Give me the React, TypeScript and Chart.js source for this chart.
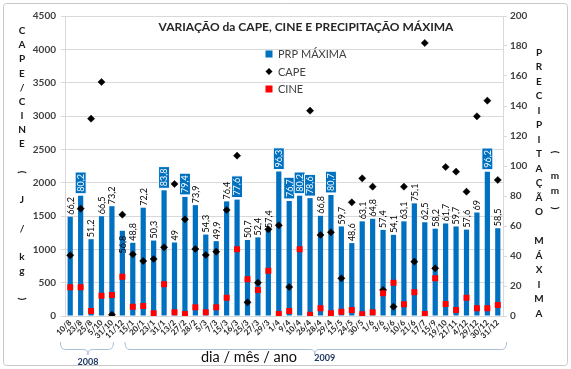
import React, { useEffect, useRef } from "react";
import { Chart, registerables } from "chart.js";

Chart.register(...registerables);

const categories = ["10/8","23/8","25/8","5/10","31/10","11/12","15/1","20/1","23/1","31/1","13/2","27/2","28/2","5/3","7/3","15/3","16/3","25/3","27/3","29/3","1/4","9/4","10/4","26/4","28/4","29/4","15/5","24/5","30/5","1/6","3/6","5/6","10/6","21/6","17/7","15/9","19/10","21/11","4/12","29/12","30/12","31/12"];
const prpMaxima = [66.2,80.2,51.2,66.5,73.2,56.8,48.8,72.2,50.3,83.8,49,79.4,73.9,54.3,49.9,76.4,77.6,50.7,52.4,57.4,96.3,76.7,80.2,78.6,66.8,80.7,59.7,48.6,63.1,64.8,57.4,54.1,63.1,75.1,62.5,58.2,61.7,59.7,57.6,69,96.2,58.5];
const cape = [910,1610,2960,3510,20,1520,925,825,855,1030,1980,1450,1005,915,965,1590,2405,205,500,1300,1360,435,null,3080,1215,1255,565,1705,2065,1940,390,140,1940,815,4095,715,2235,2165,1865,2995,3230,2040];
const cine = [431,431,75,305,315,590,140,150,40,476,55,30,130,55,130,275,1000,551,390,680,30,75,1000,20,115,40,65,90,25,55,340,500,175,356,30,566,180,90,275,115,115,165];
const leftMax = 4500;
const leftStep = 500;
const rightMax = 200;
const rightStep = 20;
const boxedAbove = 76.5;
const insideLabelIdx = [5];

const titleText = "VARIAÇÃO da CAPE, CINE E PRECIPITAÇÃO MÁXIMA";
const xTitle = "dia / mês / ano";
const leftTitle = "CAPE/CINE ( J / kg )";
const rightTitleA = "PRECIPITAÇÃO MÁXIMA";
const rightTitleB = ["(", "m", "m", ")"];
const legendItems = ["PRP MÁXIMA", "CAPE", "CINE"];
const years = ["2008", "2009"];

const BLUE = "#0070C0";
const FONT = "Lato, 'Open Sans', sans-serif";

function fmt(v: number) {
  return Number.isInteger(v) ? String(v) : v.toFixed(1).replace(".", ",");
}

function drawChar(ctx: CanvasRenderingContext2D, ch: string, x: number, y: number) {
  if (ch === " ") return;
  ctx.save();
  ctx.translate(x, y);
  if (ch === "(" || ch === ")") ctx.rotate(Math.PI / 2);
  ctx.fillText(ch, 0, 0);
  ctx.restore();
}

function drawBrace(ctx: CanvasRenderingContext2D, x1: number, x2: number, xm: number, yTop: number, yLine: number, yTip: number) {
  ctx.beginPath();
  ctx.moveTo(x1, yTop);
  ctx.quadraticCurveTo(x1, yLine, x1 + 5, yLine);
  ctx.lineTo(xm - 4, yLine);
  ctx.quadraticCurveTo(xm, yLine, xm, yTip);
  ctx.quadraticCurveTo(xm, yLine, xm + 4, yLine);
  ctx.lineTo(x2 - 5, yLine);
  ctx.quadraticCurveTo(x2, yLine, x2, yTop);
  ctx.stroke();
}

const decoPlugin = {
  id: "deco",
  afterDatasetsDraw(chart: any) {
    const ctx: CanvasRenderingContext2D = chart.ctx;
    const meta = chart.getDatasetMeta(0);
    meta.data.forEach((bar: any, i: number) => {
      const v = prpMaxima[i];
      const txt = fmt(v);
      ctx.save();
      ctx.font = `9px ${FONT}`;
      const w = ctx.measureText(txt).width;
      ctx.textBaseline = "middle";
      ctx.textAlign = "left";
      if (v > boxedAbove) {
        ctx.translate(bar.x, bar.y - 2);
        ctx.rotate(-Math.PI / 2);
        ctx.fillStyle = BLUE;
        ctx.fillRect(0, -5.5, w + 4, 11);
        ctx.strokeStyle = "#ffffff";
        ctx.lineWidth = 1;
        ctx.strokeRect(0, -5.5, w + 4, 11);
        ctx.fillStyle = "#ffffff";
        ctx.fillText(txt, 2, 0.5);
      } else if (insideLabelIdx.includes(i)) {
        ctx.translate(bar.x, bar.y + 5 + w);
        ctx.rotate(-Math.PI / 2);
        ctx.fillStyle = "#000000";
        ctx.fillText(txt, 0, 0.5);
      } else {
        ctx.translate(bar.x, bar.y - 2);
        ctx.rotate(-Math.PI / 2);
        ctx.fillStyle = "#000000";
        ctx.fillText(txt, 0, 0.5);
      }
      ctx.restore();
    });
  },
  afterDraw(chart: any) {
    const ctx: CanvasRenderingContext2D = chart.ctx;
    const area = chart.chartArea;
    ctx.save();

    // outer border
    ctx.strokeStyle = "#c8c8c8";
    ctx.lineWidth = 1;
    ctx.beginPath();
    (ctx as any).roundRect(3.5, 3.5, 564, 362, 3);
    ctx.stroke();

    // title
    ctx.fillStyle = "#262626";
    ctx.font = `bold 12px ${FONT}`;
    ctx.textAlign = "center";
    ctx.textBaseline = "middle";
    ctx.fillText(titleText, 306, 27);

    // legend
    ctx.font = `11px ${FONT}`;
    ctx.textAlign = "left";
    const ly = [54, 71.5, 89];
    const lx = 269;
    legendItems.forEach((t, k) => {
      ctx.fillStyle = "#404040";
      ctx.fillText(t, lx + 9, ly[k] + 0.5);
    });
    ctx.fillStyle = BLUE;
    ctx.fillRect(lx - 3.5, ly[0] - 3.5, 7, 7);
    ctx.fillStyle = "#000000";
    ctx.beginPath();
    ctx.moveTo(lx, ly[1] - 3.5);
    ctx.lineTo(lx + 3.5, ly[1]);
    ctx.lineTo(lx, ly[1] + 3.5);
    ctx.lineTo(lx - 3.5, ly[1]);
    ctx.closePath();
    ctx.fill();
    ctx.fillStyle = "#ff0000";
    ctx.fillRect(lx - 3.5, ly[2] - 3.5, 7, 7);

    // left axis title (stacked)
    ctx.fillStyle = "#1a1a1a";
    ctx.font = `bold 10px ${FONT}`;
    ctx.textAlign = "center";
    ctx.textBaseline = "middle";
    leftTitle.split("").forEach((ch, k) => drawChar(ctx, ch, 22, 31 + k * 14.1));

    // right axis title (stacked, two columns)
    rightTitleA.split("").forEach((ch, k) => drawChar(ctx, ch, 539, 52.5 + k * 14.5));
    const rbY = [152, 176, 191, 208];
    rightTitleB.forEach((ch, k) => drawChar(ctx, ch, 555, rbY[k]));

    // x title
    ctx.fillStyle = "#0d0d0d";
    ctx.font = `14.5px ${FONT}`;
    ctx.textAlign = "center";
    ctx.fillText(xTitle, 249, 357);

    // year braces
    const cw = (area.right - area.left) / categories.length;
    const px = (f: number) => area.left + f * cw;
    ctx.strokeStyle = "#a9bfd8";
    ctx.lineWidth = 1;
    const b1 = [px(-0.45), px(4.65), px(2.2)];
    const b2 = [px(5.75), px(42.35), px(23.95)];
    drawBrace(ctx, b1[0], b1[1], b1[2], 342, 349.5, 355);
    drawBrace(ctx, b2[0], b2[1], b2[2], 342, 349.5, 355);
    ctx.fillStyle = "#1F3864";
    ctx.font = `bold 9px ${FONT}`;
    ctx.textAlign = "center";
    ctx.fillText(years[0], b1[2], 362);
    ctx.fillText(years[1], b2[2] + 10, 358);

    ctx.restore();
  },
};

export default function App() {
  const ref = useRef<HTMLCanvasElement | null>(null);
  useEffect(() => {
    document.body.style.margin = "0";
    const canvas = ref.current!;
    const leftTicks: number[] = [];
    for (let v = 0; v <= leftMax; v += leftStep) leftTicks.push(v);
    const chart = new Chart(canvas, {
      type: "bar",
      data: {
        labels: categories,
        datasets: [
          {
            type: "bar",
            label: legendItems[0],
            data: prpMaxima,
            backgroundColor: BLUE,
            yAxisID: "y2",
            barPercentage: 0.5,
            categoryPercentage: 1,
            order: 3,
          } as any,
          {
            type: "line",
            label: legendItems[1],
            data: cape,
            showLine: false,
            pointStyle: "rectRot",
            pointRadius: 3.6,
            pointBackgroundColor: "#000000",
            pointBorderColor: "#000000",
            pointBorderWidth: 0.5,
            yAxisID: "y",
            order: 2,
          },
          {
            type: "line",
            label: legendItems[2],
            data: cine,
            showLine: false,
            pointStyle: "rect",
            pointRadius: 4.2,
            pointBackgroundColor: "#ff0000",
            pointBorderColor: "#ff0000",
            pointBorderWidth: 0,
            yAxisID: "y",
            order: 1,
          },
        ],
      },
      options: {
        responsive: false,
        animation: false,
        layout: { padding: { top: 16, left: 0, right: 0, bottom: 0 } },
        plugins: { legend: { display: false }, tooltip: { enabled: false }, title: { display: false } },
        scales: {
          x: {
            offset: true,
            grid: { display: false, drawTicks: false },
            border: { display: true, color: "#d9d9d9" },
            ticks: {
              autoSkip: false,
              minRotation: 45,
              maxRotation: 45,
              padding: 2,
              color: "#262626",
              font: { family: FONT, size: 8, weight: "bold" },
            },
            afterFit: (s: any) => { s.height = 53; },
          },
          y: {
            position: "left",
            min: 0,
            max: leftMax,
            afterBuildTicks: (s: any) => { s.ticks = leftTicks.map((v) => ({ value: v })); },
            grid: { color: "#d9d9d9", tickLength: 4, drawTicks: true },
            border: { display: true, color: "#d9d9d9" },
            ticks: {
              padding: 5,
              color: "#404040",
              font: { family: FONT, size: 10, weight: "bold" },
              callback: (v: any) => String(v),
            },
            afterFit: (s: any) => { s.width = 65; },
          },
          y2: {
            position: "right",
            min: 0,
            max: rightMax,
            ticks: {
              stepSize: rightStep,
              padding: 3,
              color: "#404040",
              font: { family: FONT, size: 10, weight: "bold" },
              callback: (v: any) => String(v),
            },
            grid: { drawOnChartArea: false, color: "#d9d9d9", tickLength: 4 },
            border: { display: true, color: "#d9d9d9" },
            afterFit: (s: any) => { s.width = 68; },
          },
        },
      } as any,
      plugins: [decoPlugin],
    });
    return () => chart.destroy();
  }, []);
  return (
    <div style={{ width: 571, height: 369 }}>
      <canvas ref={ref} width={571} height={369} style={{ display: "block" }} />
    </div>
  );
}
